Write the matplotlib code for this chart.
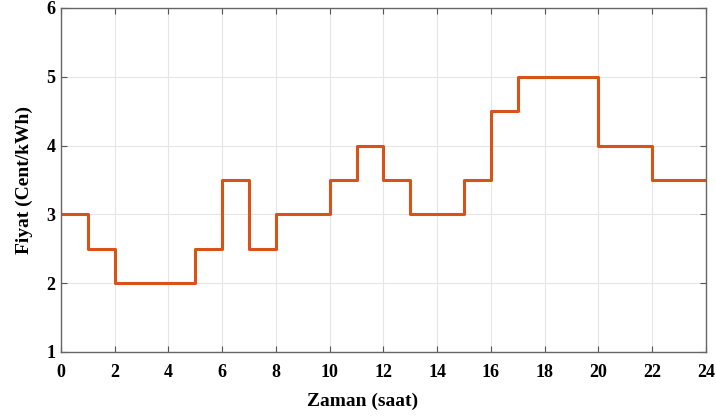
import matplotlib
matplotlib.use("Agg")
import matplotlib.pyplot as plt

hours = [0, 1, 2, 5, 6, 7, 8, 10, 11, 12, 13, 15, 16, 17, 20, 22, 24]
prices = [3, 2.5, 2, 2.5, 3.5, 2.5, 3, 3.5, 4, 3.5, 3, 3.5, 4.5, 5, 4, 3.5, 3.5]
xticks = list(range(0, 25, 2))
yticks = [1, 2, 3, 4, 5, 6]

plt.rcParams['font.family'] = ['Liberation Serif', 'DejaVu Serif']
plt.rcParams['font.weight'] = 'bold'

fig = plt.figure(figsize=(7.16, 4.16), dpi=100)
ax = fig.add_axes([0.0852, 0.154, 0.9008, 0.827])
ax.step(hours, prices, where='post', color='#D95319', linewidth=2.2)
ax.set_xlim(0, 24)
ax.set_ylim(1, 6)
ax.set_xticks(xticks)
ax.set_yticks(yticks)
ax.grid(True, color='#e6e6e6', linewidth=0.8)
ax.set_axisbelow(True)
for s in ax.spines.values():
    s.set_color('#666666')
    s.set_linewidth(1.0)
ax.tick_params(direction='in', length=4, top=True, right=True, color='#555555',
               labelsize=13)
ax.tick_params(axis='x', pad=9)
ax.tick_params(axis='y', pad=4)
for lab in ax.get_xticklabels() + ax.get_yticklabels():
    lab.set_fontweight('bold')
ax.set_xlabel('Zaman (saat)', fontsize=14, fontweight='bold', labelpad=9)
ax.xaxis.set_label_coords(0.467, -0.118)
ax.set_ylabel('Fiyat (Cent/kWh)', fontsize=14, fontweight='bold', labelpad=10)
fig.savefig('out.png', dpi=100)
